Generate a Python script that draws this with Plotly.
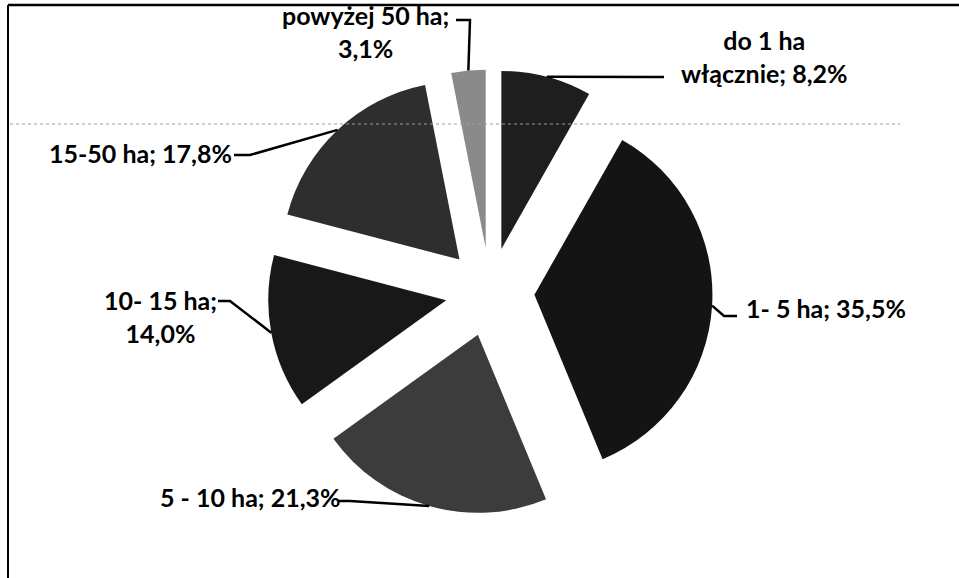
import math
import plotly.graph_objects as go

# ---- data ----
categories = ["do 1 ha<br>włącznie", "1- 5 ha", "5 - 10 ha", "10- 15 ha", "15-50 ha", "powyżej 50 ha"]
shares = [8.2, 35.5, 21.3, 14.0, 17.8, 3.1]
separators = ["; ", "; ", "; ", ";<br>", "; ", ";<br>"]
colors = ["#1e1e1e", "#141414", "#3c3c3c", "#181818", "#2e2e2e", "#8a8a8a"]

# ---- layout parameters (pixels) ----
W, H = 959, 578
CX, CY = 490, 292      # pie centre
R = 178                # pie radius
PULL = 0.25            # explode fraction
half = R * (1 + PULL)
domain_x = [(CX - half) / W, (CX + half) / W]
domain_y = [1 - (CY + half) / H, 1 - (CY - half) / H]

# label centres and leader-line start / elbow (pixels)
label_pos = [(764, 56), (826, 308), (250, 497), (160, 316), (140, 153), (365, 32)]
line_start = [(664, 77), (737, 316), (338, 501), (218, 301), (234, 155), (456, 20)]
line_elbow = [(652, 77), (724, 316), (350, 501), (230, 301), (250, 155), (470, 20)]


def px(x, y):
    return x / W, 1 - y / H


fig = go.Figure(go.Pie(
    labels=categories,
    values=shares,
    sort=False,
    direction="clockwise",
    rotation=0,
    pull=PULL,
    marker=dict(colors=colors, line=dict(width=0)),
    textinfo="none",
    hoverinfo="label+percent",
    domain=dict(x=domain_x, y=domain_y),
    showlegend=False,
))

total = sum(shares)
annotations = []
shapes = []
cum = 0.0
for i, v in enumerate(shares):
    mid = (cum + v / 2) / total * 2 * math.pi
    cum += v
    # point on the outer arc of the pulled slice, from the data angle
    ex = CX + R * (1 + PULL) * math.sin(mid)
    ey = CY - R * (1 + PULL) * math.cos(mid)
    txt = "<b>" + categories[i] + separators[i] + f"{v:.1f}".replace(".", ",") + "%</b>"
    lx, ly = px(*label_pos[i])
    annotations.append(dict(x=lx, y=ly, xref="paper", yref="paper", text=txt,
                            showarrow=False, xanchor="center", yanchor="middle",
                            align="center",
                            font=dict(family="Lato", size=25, color="black")))
    x0, y0 = px(*line_start[i])
    x1, y1 = px(*line_elbow[i])
    x2, y2 = px(ex, ey)
    shapes.append(dict(type="path", xref="paper", yref="paper",
                       path=f"M {x0},{y0} L {x1},{y1} L {x2},{y2}",
                       line=dict(color="black", width=2.5)))

# frame and scan line
fx0, fy0 = px(8, 5)
shapes.append(dict(type="line", xref="paper", yref="paper", x0=fx0, y0=fy0, x1=1.0, y1=fy0,
                   line=dict(color="black", width=2.5)))
shapes.append(dict(type="line", xref="paper", yref="paper", x0=fx0, y0=fy0, x1=fx0, y1=0,
                   line=dict(color="black", width=2)))
sx0, sy0 = px(10, 124)
sx1, _ = px(900, 124)
shapes.append(dict(type="line", xref="paper", yref="paper", x0=sx0, y0=sy0, x1=sx1, y1=sy0,
                   line=dict(color="#9a9a9a", width=1, dash="dot")))

fig.update_layout(
    width=W, height=H,
    margin=dict(l=0, r=0, t=0, b=0),
    paper_bgcolor="white",
    plot_bgcolor="white",
    annotations=annotations,
    shapes=shapes,
)

fig.write_html("out.html", config={"displayModeBar": False},
               post_script="document.body.style.margin='0';")
